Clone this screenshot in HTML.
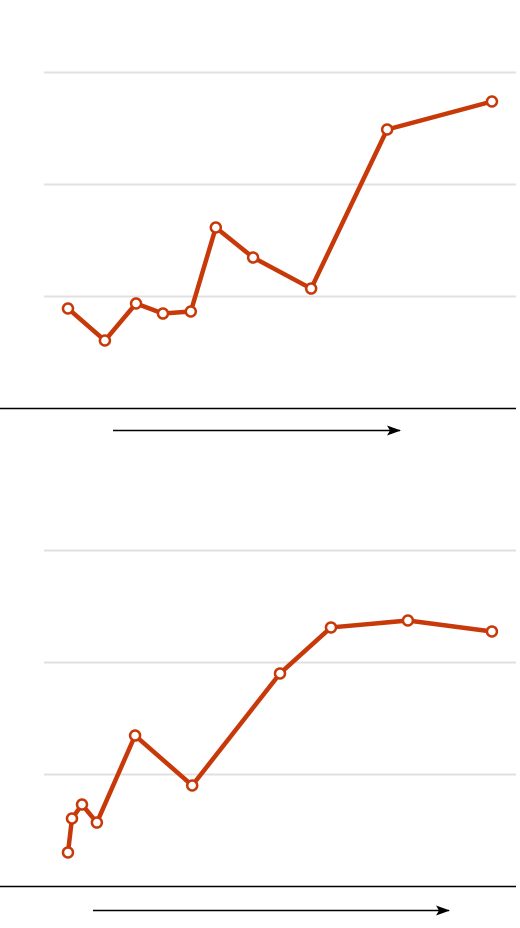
<!DOCTYPE html>
<html><head><meta charset="utf-8"><style>
html,body{margin:0;padding:0;background:#fff;}
svg{display:block;}
</style></head><body>
<svg id="chart" width="520" height="928">
<defs><marker id="ah" markerWidth="14" markerHeight="10" refX="13" refY="5" orient="auto" markerUnits="userSpaceOnUse"><path d="M0,0 L14,5 L0,10 L3,5 Z" fill="#000"/></marker></defs>
</svg>
<script>
const topX = [5.08,12.9,19.5,25.2,31.1,36.4,44.3,56.6,72.7,94.9];
const topY = [0.893,0.607,0.9375,0.848,0.866,1.616,1.348,1.071,2.491,2.741];
const botX = [5.08,5.93,8.05,11.2,19.3,31.4,50.0,60.8,77.1,94.9];
const botY = [0.304,0.607,0.732,0.571,1.348,0.902,1.902,2.313,2.375,2.277];
const gridTicks = [1,2,3];

const svg = document.getElementById('chart');
const NS = 'http://www.w3.org/2000/svg';
function mk(tag, attrs){const e=document.createElementNS(NS,tag);for(const k in attrs)e.setAttribute(k,attrs[k]);svg.appendChild(e);return e;}
const xScale = v => 44 + v*4.72;

function drawPanel(base, xs, ys, arrowX1, arrowX2, prefix){
  base = base + 0.5;
  const yScale = v => base - v*112;
  gridTicks.forEach((t,i)=>{
    const g = mk('line',{x1:44,x2:516,y1:yScale(t),y2:yScale(t),stroke:'#e0e0e0','stroke-width':2});
    
    
  });
  const b = mk('line',{x1:0,x2:516,y1:base,y2:base,stroke:'#000','stroke-width':1.5});
  
  
  const ay = base+22+(prefix==='bottom'?2:0);
  const a = mk('line',{x1:arrowX1,x2:arrowX2,y1:ay,y2:ay,stroke:'#000','stroke-width':1.5,'marker-end':'url(#ah)'});
  
  
  const pts = xs.map((x,i)=>xScale(x)+','+yScale(ys[i])).join(' ');
  const l = mk('polyline',{points:pts,fill:'none',stroke:'#c8390a','stroke-width':4.5,'stroke-linejoin':'round'});
  
  
  xs.forEach((x,i)=>{
    const c = mk('circle',{cx:xScale(x),cy:yScale(ys[i]),r:5,fill:'#fff',stroke:'#c8390a','stroke-width':2.5});
    
    
  });
}
drawPanel(408, topX, topY, 113, 400, 'top');
drawPanel(886, botX, botY, 93, 449, 'bottom');
</script>
</body></html>
